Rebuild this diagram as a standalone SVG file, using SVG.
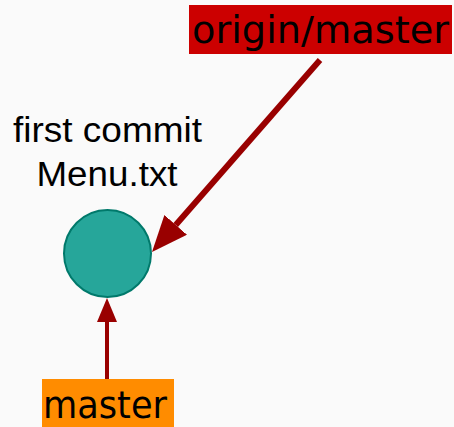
<svg xmlns="http://www.w3.org/2000/svg" width="454" height="427" viewBox="0 0 454 427">
<style>
.lbl{font-family:"DejaVu Sans","Verdana",sans-serif;font-size:37px;fill:#000}
.cap{font-family:"Liberation Sans",Arial,sans-serif;font-size:35px;fill:#000;text-anchor:middle}
.conn{stroke:#990000;fill:none}
</style>
<defs>
<marker id="ah" viewBox="0 0 6 5" refX="0" refY="2.5" markerWidth="6" markerHeight="5" markerUnits="strokeWidth" orient="auto">
<path d="M0,0 L6,2.5 L0,5 z" fill="#990000"/>
</marker>
</defs>
<rect width="454" height="427" fill="#fafafa"/>
<g id="connectors">
<line class="conn" x1="320" y1="60" x2="175.7" y2="224.9" stroke-width="6" marker-end="url(#ah)"/>
<line class="conn" x1="107" y1="384" x2="107" y2="322" stroke-width="4" marker-end="url(#ah)"/>
</g>
<g id="commit">
<circle cx="107.5" cy="253.5" r="43.5" fill="#26a69a" stroke="#00796b" stroke-width="2"/>
<text class="cap" x="107.5" y="142" textLength="189" lengthAdjust="spacingAndGlyphs">first commit</text>
<text class="cap" x="107" y="186" textLength="141" lengthAdjust="spacingAndGlyphs">Menu.txt</text>
</g>
<g id="origin-master">
<rect x="189" y="5" width="263" height="49" fill="#cc0000"/>
<text class="lbl" x="192" y="43" textLength="257" lengthAdjust="spacingAndGlyphs">origin/master</text>
</g>
<g id="master">
<rect x="42" y="379" width="132" height="48" fill="#ff8c00"/>
<text class="lbl" x="43" y="418" textLength="124" lengthAdjust="spacingAndGlyphs">master</text>
</g>
</svg>
